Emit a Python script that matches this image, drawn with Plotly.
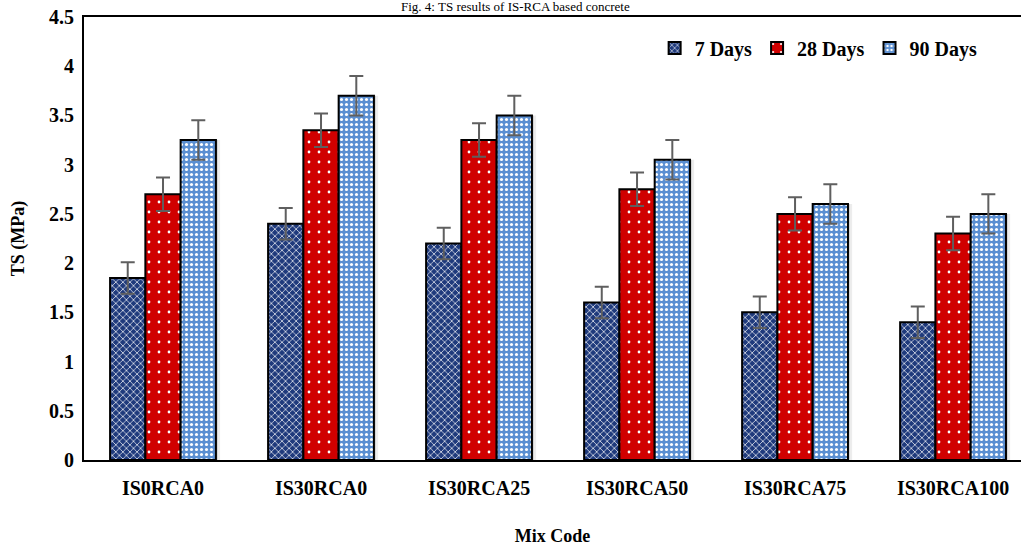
import plotly.graph_objects as go

# Mix codes and tensile strength results (MPa)
mix_codes = ["IS0RCA0", "IS30RCA0", "IS30RCA25", "IS30RCA50", "IS30RCA75", "IS30RCA100"]
ts_7_days = [1.85, 2.40, 2.20, 1.60, 1.50, 1.40]
ts_28_days = [2.70, 3.35, 3.25, 2.75, 2.50, 2.30]
ts_90_days = [3.25, 3.70, 3.50, 3.05, 2.60, 2.50]
err_7_days = [0.16, 0.16, 0.16, 0.16, 0.16, 0.16]
err_28_days = [0.17, 0.17, 0.17, 0.17, 0.17, 0.17]
err_90_days = [0.20, 0.20, 0.20, 0.20, 0.20, 0.20]
y_ticks = [0, 0.5, 1, 1.5, 2, 2.5, 3, 3.5, 4, 4.5]
y_tick_text = ["0", "0.5", "1", "1.5", "2", "2.5", "3", "3.5", "4", "4.5"]

SERIF = "Times New Roman, Liberation Serif, serif"
positions = list(range(len(mix_codes)))

BAR_W = 0.2233          # width of one bar in category units
SHADOW_SHIFT = 0.022    # soft drop shadow offset

series = [
    ("7 Days", ts_7_days, err_7_days,
     dict(shape="x", fgcolor="white", bgcolor="#1f3a7c", size=5, solidity=0.25)),
    ("28 Days", ts_28_days, err_28_days,
     dict(shape=".", fgcolor="white", bgcolor="#d00000", size=10, solidity=0.06)),
    ("90 Days", ts_90_days, err_90_days,
     dict(shape=".", fgcolor="white", bgcolor="#5b8fd2", size=5, solidity=0.3)),
]

fig = go.Figure()

# Shadows behind each bar
for i, (name, vals, errs, pattern) in enumerate(series):
    for k, alpha in enumerate([0.10, 0.07]):
        fig.add_trace(go.Bar(
            x=positions, y=vals,
            offset=-1.5 * BAR_W + i * BAR_W + SHADOW_SHIFT * (k + 1) * 0.6,
            width=BAR_W,
            marker=dict(color=f"rgba(0,0,0,{alpha})", line=dict(width=0)),
            showlegend=False, hoverinfo="skip",
        ))

for i, (name, vals, errs, pattern) in enumerate(series):
    fig.add_trace(go.Bar(
        name=name,
        x=positions,
        y=vals,
        offset=-1.5 * BAR_W + i * BAR_W,
        width=BAR_W,
        marker=dict(
            color=pattern["bgcolor"],
            pattern=dict(shape=pattern["shape"], fgcolor=pattern["fgcolor"],
                         bgcolor=pattern["bgcolor"], size=pattern["size"],
                         solidity=pattern["solidity"], fillmode="replace"),
            line=dict(color="black", width=2),
        ),
        error_y=dict(type="data", array=errs, visible=True,
                     color="#5f5f5f", thickness=2, width=7),
    ))

# Figure caption along the top edge
fig.add_annotation(
    text="Fig. 4: TS results of IS-RCA based concrete",
    xref="paper", yref="paper", x=0.46, y=1.0,
    xanchor="center", yanchor="bottom", yshift=1, showarrow=False,
    font=dict(family=SERIF, size=13, color="black"),
)

fig.update_layout(
    width=1021, height=547,
    margin=dict(l=84, r=0, t=17, b=87),
    paper_bgcolor="white", plot_bgcolor="white",
    barmode="overlay",
    font=dict(family=SERIF, color="black"),
    showlegend=True,
    legend=dict(
        orientation="h", x=0.609, y=0.93, xanchor="left", yanchor="middle",
        font=dict(family=SERIF, size=20, color="black", weight="bold"),
        bgcolor="rgba(0,0,0,0)", itemwidth=30, traceorder="normal",
    ),
    xaxis=dict(
        tickmode="array", tickvals=positions, ticktext=mix_codes,
        range=[-0.5, 5.43],
        showline=True, linecolor="black", linewidth=2, mirror=True,
        showgrid=False, zeroline=False, ticks="",
        ticklabelstandoff=9,
        tickfont=dict(family=SERIF, size=20, color="black", weight="bold"),
        title=dict(text="Mix Code", standoff=31,
                   font=dict(family=SERIF, size=18, color="black", weight="bold")),
    ),
    yaxis=dict(
        range=[0, 4.5], tickmode="array", tickvals=y_ticks, ticktext=y_tick_text,
        showline=True, linecolor="black", linewidth=2,
        showgrid=False, zeroline=False, ticks="",
        ticklabelstandoff=4,
        tickfont=dict(family=SERIF, size=20, color="black", weight="bold"),
        title=dict(text="TS (MPa)", standoff=20,
                   font=dict(family=SERIF, size=18, color="black", weight="bold")),
    ),
)

fig.write_html("out.html")
